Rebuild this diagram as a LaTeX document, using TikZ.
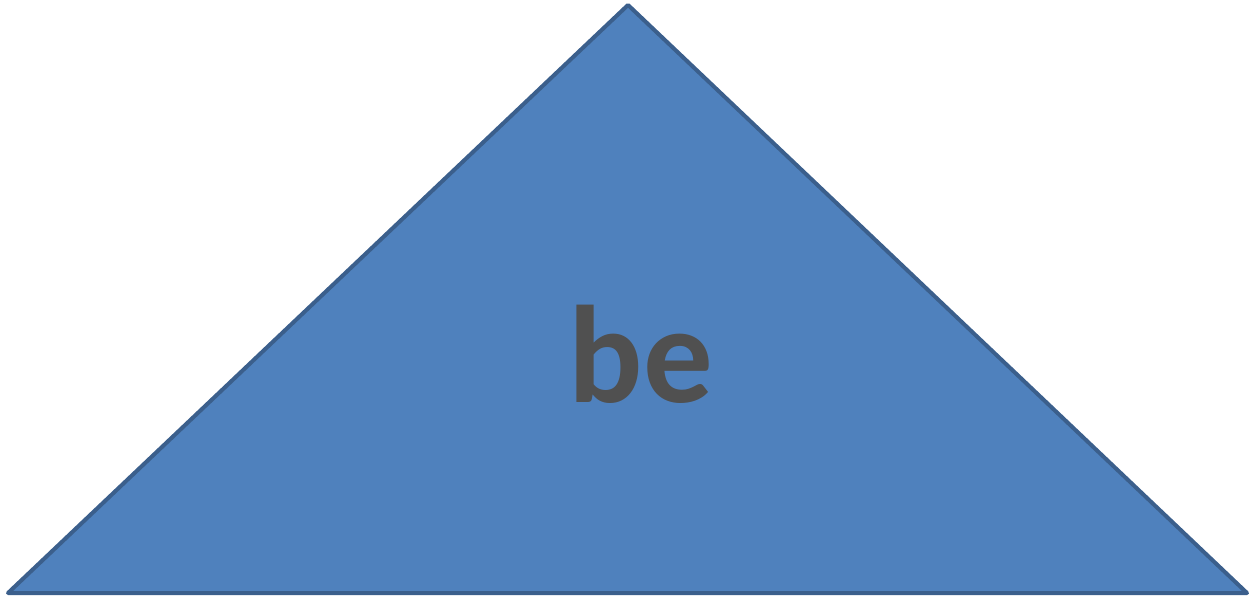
\documentclass[tikz,border=0pt]{standalone}
\usepackage{fontspec}
\setmainfont{Carlito}
\definecolor{triFill}{HTML}{4F81BD}
\definecolor{triEdge}{HTML}{3B5F8C}
\definecolor{wordGray}{HTML}{505050}
\begin{document}
\begin{tikzpicture}[x=0.02cm,y=-0.02cm,
  tri/.style={fill=triFill,draw=triEdge,line width=0.08cm,line join=round},
  word/.style={text=wordGray,font=\fontsize{79}{94}\selectfont\bfseries,inner sep=0pt,anchor=base}]
\useasboundingbox (0,0) rectangle (1250,598);
% triangle
\draw[tri] (628,5) -- (1247,593) -- (8,593) -- cycle;
\node[word] (be) at (641,402) {be};
\end{tikzpicture}
\end{document}
